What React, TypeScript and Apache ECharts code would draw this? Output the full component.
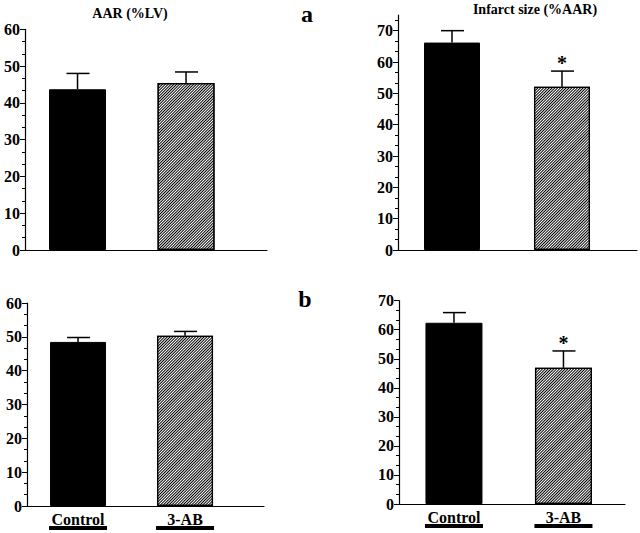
import React, { useEffect, useRef } from "react";
import * as echarts from "echarts";

// ---- data ----
const categories = ["Control", "3-AB"];
const aarA = [43.7, 45.4];
const aarAErr = [4.3, 3.0];
const infarctA = [66.2, 52.1];
const infarctAErr = [3.8, 5.0];
const aarB = [48.5, 50.3];
const aarBErr = [1.3, 1.3];
const infarctB = [62.4, 46.9];
const infarctBErr = [3.5, 5.8];
const significantA = [false, true];
const significantB = [false, true];
const aarTicks = [0, 10, 20, 30, 40, 50, 60];
const infarctTicks = [0, 10, 20, 30, 40, 50, 60, 70];

const FONT = "Liberation Serif";

const hatch = {
  symbol: "rect",
  symbolSize: 1,
  dashArrayX: [1, 0],
  dashArrayY: [1, 1],
  rotation: -Math.PI / 4,
  color: "#000",
  backgroundColor: "#fff",
};

type Panel = {
  grid: { left: number; top: number; width: number; height: number };
  xMin: number;
  xMax: number;
  yMax: number;
  ticks: number[];
  means: number[];
  errs: number[];
  sig: boolean[];
  showCats: boolean;
  barWidth: number;
};

const panels: Panel[] = [
  { grid: { left: 25, top: 29.3, width: 242, height: 220.7 }, xMin: -0.484, xMax: 1.746, yMax: 60, ticks: aarTicks, means: aarA, errs: aarAErr, sig: [false, false], showCats: false, barWidth: 57 },
  { grid: { left: 398, top: 15, width: 239, height: 235 }, xMin: -0.491, xMax: 1.682, yMax: 75, ticks: infarctTicks, means: infarctA, errs: infarctAErr, sig: significantA, showCats: false, barWidth: 56 },
  { grid: { left: 27, top: 303, width: 237, height: 203 }, xMin: -0.477, xMax: 1.738, yMax: 60, ticks: aarTicks, means: aarB, errs: aarBErr, sig: [false, false], showCats: true, barWidth: 56 },
  { grid: { left: 399, top: 300.7, width: 226, height: 203.3 }, xMin: -0.502, xMax: 1.562, yMax: 70, ticks: infarctTicks, means: infarctB, errs: infarctBErr, sig: significantB, showCats: true, barWidth: 57 },
];

function buildOption() {
  const grid: any[] = [];
  const xAxis: any[] = [];
  const yAxis: any[] = [];
  const series: any[] = [];
  panels.forEach((p, i) => {
    grid.push({ ...p.grid, containLabel: false });
    xAxis.push({
      type: "value",
      gridIndex: i,
      min: p.xMin,
      max: p.xMax,
      splitLine: { show: false },
      axisLine: { show: true, onZero: false, lineStyle: { color: "#000", width: 1.2 } },
      axisTick: { show: false },
      axisLabel: p.showCats
        ? {
            show: true,
            customValues: [0, 1],
            margin: 6,
            formatter: (v: number) => `{t|${categories[Math.round(v)]}}\n{u| }`,
            rich: {
              t: { fontFamily: FONT, fontWeight: "bold", fontSize: 16, lineHeight: 14, color: "#000" },
              u: { width: 58, height: 4, lineHeight: 4, backgroundColor: "#000", fontSize: 1 },
            },
          }
        : { show: false },
    });
    yAxis.push({
      type: "value",
      gridIndex: i,
      min: 0,
      max: p.yMax,
      interval: 10,
      splitLine: { show: false },
      axisLine: { show: true, onZero: false, lineStyle: { color: "#000", width: 1.2 } },
      axisTick: { show: true, length: 5, customValues: p.ticks, lineStyle: { color: "#000" } },
      minorTick: { show: true, splitNumber: 3, length: 3, lineStyle: { color: "#000" } },
      axisLabel: {
        customValues: p.ticks,
        fontFamily: FONT,
        fontWeight: "bold",
        fontSize: 16,
        color: "#000",
        margin: 5,
        padding: [3, 0, 0, 0],
      },
    });
    series.push({
      type: "bar",
      xAxisIndex: i,
      yAxisIndex: i,
      barWidth: p.barWidth,
      data: p.means.map((m, k) => ({
        value: [k, m],
        itemStyle:
          k === 0
            ? { color: "#000", borderColor: "#000", borderWidth: 1 }
            : { color: "#fff", borderColor: "#000", borderWidth: 1.2, decal: hatch },
      })),
    });
    series.push({
      type: "custom",
      xAxisIndex: i,
      yAxisIndex: i,
      encode: { x: 0, y: 1 },
      data: p.means.map((m, k) => [k, m, p.errs[k]]),
      renderItem: (params: any, api: any) => {
        const x = api.value(0);
        const y = api.value(1);
        const e = api.value(2);
        const p0 = api.coord([x, y]);
        const p1 = api.coord([x, y + e]);
        const st = { stroke: "#000", lineWidth: 1.5 };
        return {
          type: "group",
          children: [
            { type: "line", shape: { x1: p0[0], y1: p0[1], x2: p1[0], y2: p1[1] }, style: st },
            { type: "line", shape: { x1: p1[0] - 11, y1: p1[1], x2: p1[0] + 12, y2: p1[1] }, style: st },
          ],
        };
      },
    });
    const sigData = p.means
      .map((m, k) => (p.sig[k] ? [k, m + p.errs[k]] : null))
      .filter((d) => d !== null);
    if (sigData.length) {
      series.push({
        type: "custom",
        xAxisIndex: i,
        yAxisIndex: i,
        encode: { x: 0, y: 1 },
        data: sigData,
        renderItem: (params: any, api: any) => {
          const pt = api.coord([api.value(0), api.value(1)]);
          return {
            type: "text",
            x: pt[0],
            y: pt[1] + 2,
            style: {
              text: "*",
              fontFamily: FONT,
              fontWeight: "bold",
              fontSize: 20,
              fill: "#000",
              align: "center",
              verticalAlign: "bottom",
            },
          };
        },
      });
    }
  });

  const ttl = (text: string, cx: number, cy: number, size: number) => ({
    text,
    left: cx,
    top: cy - size / 2,
    textAlign: "center",
    padding: 0,
    textStyle: {
      fontFamily: FONT,
      fontWeight: "bold",
      fontSize: size,
      lineHeight: size,
      color: "#000",
    },
  });

  const title = [
    ttl("AAR (%LV)", 130, 13, 14),
    ttl("Infarct size (%AAR)", 535, 9, 14),
    ttl("a", 307, 14, 24),
    ttl("b", 305, 299, 24),
  ];

  return { animation: false, backgroundColor: "#fff", title, grid, xAxis, yAxis, series };
}

export default function App() {
  const ref = useRef<HTMLDivElement>(null);
  useEffect(() => {
    document.body.style.margin = "0";
    if (!ref.current) return;
    const chart = echarts.init(ref.current, null, { renderer: "svg" });
    chart.setOption(buildOption() as any);
    return () => chart.dispose();
  }, []);
  return <div ref={ref} style={{ width: 640, height: 533 }} />;
}
